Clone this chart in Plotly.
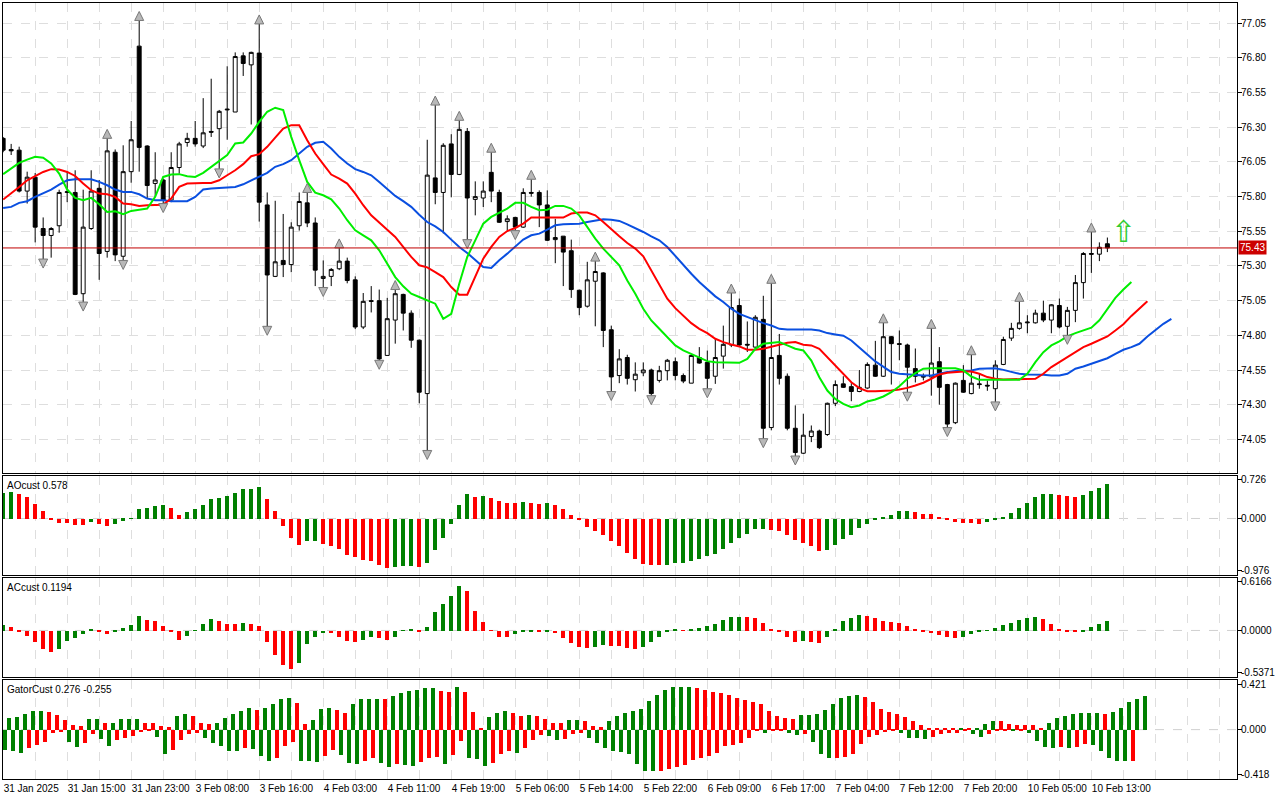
import plotly.graph_objects as go
from plotly.subplots import make_subplots

# H1 bars, index 0 = 31 Jan 2025 07:00
opens = [76.22, 76.14, 76.135, 75.84, 75.94, 75.57, 75.52, 75.59, 75.83, 75.83,
         75.10, 75.57, 75.86, 75.405, 76.12, 75.37, 75.98, 76.885, 76.165, 75.895,
         75.92, 75.775, 76.01, 76.19, 76.22, 76.165, 76.27, 76.29, 76.425, 76.41,
         76.815, 76.75, 76.835, 75.74, 75.225, 75.34, 75.31, 75.59, 75.755, 75.61,
         75.21, 75.225, 75.28, 75.335, 75.20, 74.86, 75.05, 75.05, 74.655, 74.91,
         75.095, 74.96, 74.765, 74.38, 75.935, 75.83, 76.18, 75.96, 76.27, 75.78,
         75.79, 75.975, 75.83, 75.62, 75.65, 75.58, 75.83, 75.83, 75.74, 75.49,
         75.515, 75.41, 75.125, 75.01, 75.19, 75.25, 74.84, 74.51, 74.64, 74.48,
         74.53, 74.55, 74.475, 74.545, 74.61, 74.51, 74.455, 74.64, 74.605, 74.505,
         74.65, 74.73, 75.015, 74.735, 74.715, 74.915, 74.135, 74.655, 74.505, 74.13,
         73.95, 74.07, 74.11, 74.085, 74.31, 74.45, 74.43, 74.395, 74.42, 74.585,
         74.505, 74.79, 74.74, 74.73, 74.56, 74.505, 74.50, 74.61, 74.445, 74.17,
         74.475, 74.38, 74.45, 74.44, 74.415, 74.59, 74.78, 74.85, 74.89, 74.89,
         74.96, 74.91, 75.015, 74.865, 74.98, 75.18, 75.39, 75.385, 75.46]
highs = [76.23, 76.18, 76.16, 75.98, 75.97, 75.65, 75.58, 75.85, 75.98, 75.99,
         75.85, 75.99, 75.92, 76.22, 76.14, 76.17, 76.345, 77.07, 76.17, 76.12,
         75.93, 76.12, 76.195, 76.26, 76.345, 76.51, 76.65, 76.425, 76.74, 76.84,
         76.84, 76.845, 77.045, 75.83, 75.77, 75.675, 75.615, 75.83, 75.83, 75.65,
         75.34, 75.285, 75.43, 75.36, 75.225, 75.105, 75.155, 75.13, 75.07, 75.13,
         75.10, 74.98, 74.77, 76.21, 76.46, 76.185, 76.25, 76.35, 76.295, 75.91,
         75.91, 76.12, 75.85, 75.665, 75.655, 75.86, 75.925, 75.845, 75.845, 75.64,
         75.515, 75.49, 75.13, 75.33, 75.335, 75.255, 74.87, 74.70, 74.66, 74.605,
         74.605, 74.56, 74.58, 74.63, 74.64, 74.525, 74.66, 74.715, 74.69, 74.775,
         74.87, 75.105, 75.065, 74.90, 74.945, 75.085, 75.175, 74.81, 74.525, 74.295,
         74.235, 74.15, 74.12, 74.315, 74.475, 74.505, 74.455, 74.55, 74.605, 74.76,
         74.89, 74.795, 74.835, 74.74, 74.705, 74.525, 74.85, 74.715, 74.45, 74.46,
         74.585, 74.66, 74.525, 74.475, 74.62, 74.79, 74.89, 75.045, 74.945, 74.985,
         75.05, 75.025, 75.065, 75.005, 75.235, 75.40, 75.545, 75.47, 75.505]
lows = [76.12, 76.10, 75.83, 75.75, 75.47, 75.35, 75.36, 75.54, 75.76, 75.09,
        75.04, 75.56, 75.20, 75.36, 75.335, 75.34, 75.90, 75.98, 75.79, 75.80,
        75.75, 75.76, 75.965, 76.16, 76.16, 76.15, 76.23, 76.00, 76.21, 76.41,
        76.67, 76.32, 75.62, 74.865, 75.22, 75.22, 75.255, 75.555, 75.58, 75.155,
        75.145, 75.155, 75.27, 75.175, 74.845, 74.845, 74.965, 74.62, 74.655, 74.74,
        74.835, 74.71, 74.31, 73.97, 75.745, 75.535, 75.795, 75.955, 75.49, 75.665,
        75.725, 75.76, 75.61, 75.555, 75.555, 75.575, 75.80, 75.58, 75.48, 75.32,
        75.155, 75.07, 74.945, 75.00, 74.865, 74.715, 74.395, 74.455, 74.445, 74.395,
        74.505, 74.365, 74.46, 74.475, 74.475, 74.455, 74.455, 74.595, 74.415, 74.45,
        74.56, 74.715, 74.725, 74.68, 74.71, 74.055, 74.115, 74.445, 74.115, 73.93,
        73.945, 74.03, 73.98, 74.075, 74.29, 74.42, 74.325, 74.39, 74.415, 74.50,
        74.50, 74.445, 74.62, 74.39, 74.46, 74.475, 74.365, 74.30, 74.135, 74.16,
        74.385, 74.375, 74.415, 74.40, 74.32, 74.585, 74.76, 74.84, 74.815, 74.885,
        74.895, 74.815, 74.85, 74.80, 74.895, 75.065, 75.25, 75.335, 75.40]
closes = [76.135, 76.13, 75.84, 75.94, 75.58, 75.52, 75.57, 75.83, 75.835, 75.095,
          75.58, 75.84, 75.39, 76.13, 75.38, 75.98, 76.21, 76.155, 75.88, 75.92,
          75.775, 76.01, 76.18, 76.22, 76.18, 76.26, 76.265, 76.415, 76.43, 76.81,
          76.76, 76.84, 75.76, 75.235, 75.33, 75.31, 75.58, 75.765, 75.61, 75.27,
          75.225, 75.275, 75.335, 75.195, 74.86, 75.045, 75.045, 74.63, 74.92, 75.10,
          74.96, 74.765, 74.39, 75.955, 75.83, 76.17, 75.96, 76.285, 75.79, 75.80,
          75.84, 75.84, 75.615, 75.64, 75.58, 75.83, 75.825, 75.74, 75.485, 75.505,
          75.40, 75.13, 75.00, 75.20, 75.26, 74.835, 74.50, 74.63, 74.49, 74.52,
          74.55, 74.38, 74.545, 74.62, 74.51, 74.47, 74.655, 74.60, 74.49, 74.64,
          74.735, 75.00, 74.73, 74.73, 74.93, 74.13, 74.64, 74.49, 74.13, 73.955,
          74.08, 74.11, 73.99, 74.31, 74.445, 74.425, 74.395, 74.425, 74.59, 74.505,
          74.79, 74.74, 74.735, 74.57, 74.505, 74.50, 74.60, 74.425, 74.16, 74.455,
          74.39, 74.455, 74.445, 74.435, 74.585, 74.77, 74.85, 74.89, 74.895, 74.96,
          74.91, 75.02, 74.86, 74.98, 75.18, 75.39, 75.385, 75.435, 75.43]

# Alligator lines as drawn (lips +3, teeth +5, jaw +8 bars ahead)
lips = [75.962, 76.003, 76.043, 76.067, 76.087, 76.08, 76.039, 75.966, 75.851, 75.791,
        75.774, 75.791, 75.745, 75.69, 75.694, 75.673, 75.697, 75.706, 75.714, 75.798,
        75.942, 75.959, 75.962, 75.947, 75.942, 75.971, 76.015, 76.055, 76.099, 76.183,
        76.19, 76.255, 76.339, 76.412, 76.441, 76.424, 76.231, 76.063, 75.906, 75.829,
        75.81, 75.781, 75.714, 75.63, 75.557, 75.521, 75.485, 75.413, 75.317, 75.22,
        75.153, 75.1, 75.076, 75.05, 75.028, 74.919, 74.955, 75.172, 75.365, 75.485,
        75.605, 75.654, 75.682, 75.714, 75.755, 75.755, 75.726, 75.702, 75.706, 75.733,
        75.733, 75.714, 75.665, 75.581, 75.497, 75.425, 75.365, 75.305, 75.196, 75.1,
        74.992, 74.907, 74.847, 74.787, 74.727, 74.691, 74.667, 74.638, 74.614, 74.606,
        74.606, 74.602, 74.602, 74.63, 74.703, 74.739, 74.744, 74.751, 74.727, 74.703,
        74.691, 74.618, 74.498, 74.402, 74.342, 74.306, 74.282, 74.294, 74.323, 74.337,
        74.359, 74.39, 74.433, 74.487, 74.527, 74.559, 74.563, 74.563, 74.563, 74.563,
        74.547, 74.503, 74.479, 74.479, 74.479, 74.479, 74.479, 74.479, 74.523, 74.607,
        74.679, 74.727, 74.756, 74.792, 74.816, 74.835, 74.855, 74.908, 74.99, 75.07,
        75.13, 75.184]
teeth = [75.779, 75.822, 75.87, 75.918, 75.949, 75.978, 75.998, 75.995, 75.978, 75.949,
         75.894, 75.846, 75.822, 75.817, 75.798, 75.75, 75.745, 75.733, 75.738, 75.738,
         75.742, 75.786, 75.87, 75.894, 75.899, 75.899, 75.899, 75.918, 75.954, 75.99,
         76.034, 76.091, 76.106, 76.159, 76.226, 76.291, 76.315, 76.315, 76.207, 76.111,
         76.034, 75.959, 75.93, 75.894, 75.822, 75.738, 75.665, 75.617, 75.562, 75.509,
         75.437, 75.365, 75.305, 75.29, 75.256, 75.22, 75.148, 75.093, 75.093, 75.22,
         75.353, 75.437, 75.509, 75.552, 75.574, 75.605, 75.649, 75.649, 75.649, 75.649,
         75.649, 75.678, 75.685, 75.685, 75.665, 75.617, 75.562, 75.514, 75.466, 75.425,
         75.37, 75.268, 75.16, 75.064, 74.996, 74.943, 74.888, 74.847, 74.816, 74.775,
         74.751, 74.734, 74.72, 74.696, 74.696, 74.703, 74.715, 74.732, 74.746, 74.751,
         74.732, 74.727, 74.703, 74.642, 74.58, 74.523, 74.462, 74.419, 74.397, 74.397,
         74.397, 74.402, 74.41, 74.421, 74.438, 74.458, 74.487, 74.518, 74.53, 74.535,
         74.539, 74.539, 74.523, 74.499, 74.487, 74.482, 74.482, 74.482, 74.482, 74.487,
         74.523, 74.571, 74.607, 74.643, 74.679, 74.715, 74.739, 74.763, 74.792, 74.835,
         74.88, 74.94, 74.99, 75.045]
jaw = [75.718, 75.726, 75.755, 75.767, 75.798, 75.822, 75.851, 75.887, 75.918, 75.925,
       75.925, 75.925, 75.906, 75.882, 75.851, 75.834, 75.834, 75.817, 75.786, 75.774,
       75.774, 75.767, 75.767, 75.767, 75.798, 75.851, 75.858, 75.863, 75.865, 75.87,
       75.889, 75.918, 75.947, 75.971, 76.015, 76.034, 76.063, 76.111, 76.159, 76.188,
       76.195, 76.147, 76.087, 76.039, 75.998, 75.978, 75.954, 75.906, 75.858, 75.805,
       75.767, 75.726, 75.67, 75.617, 75.586, 75.545, 75.49, 75.437, 75.394, 75.341,
       75.293, 75.285, 75.341, 75.389, 75.442, 75.49, 75.521, 75.533, 75.562, 75.593,
       75.6, 75.6, 75.605, 75.617, 75.629, 75.637, 75.634, 75.625, 75.6, 75.574,
       75.545, 75.514, 75.485, 75.437, 75.37, 75.305, 75.244, 75.184, 75.129, 75.081,
       75.04, 74.992, 74.955, 74.931, 74.907, 74.888, 74.871, 74.847, 74.842, 74.842,
       74.847, 74.842, 74.835, 74.816, 74.806, 74.797, 74.763, 74.715, 74.662, 74.612,
       74.571, 74.535, 74.523, 74.518, 74.515, 74.51, 74.51, 74.523, 74.535, 74.542,
       74.544, 74.547, 74.559, 74.563, 74.563, 74.551, 74.535, 74.523, 74.518, 74.518,
       74.515, 74.51, 74.51, 74.523, 74.559, 74.575, 74.595, 74.612, 74.635, 74.667,
       74.696, 74.715, 74.739, 74.792, 74.835, 74.883, 74.919]

fractal_up = [13, 17, 32, 38, 42, 49, 54, 57, 61, 66, 74, 91, 96, 110, 116, 121, 127, 136]
fractal_down = [5, 10, 15, 20, 27, 33, 40, 47, 53, 58, 64, 76, 81, 88, 95, 99, 113, 118, 124, 133]
signal_bar, signal_price = 140, 75.55
last_price = 75.43

ao = [0.478, 0.503, 0.459, 0.408, 0.287, 0.14, -0.01, -0.07, -0.075, -0.108,
      -0.112, -0.05, -0.09, -0.134, -0.09, -0.032, 0.013, 0.178, 0.197, 0.248,
      0.252, 0.197, 0.076, 0.121, 0.178, 0.268, 0.363, 0.389, 0.427, 0.478,
      0.554, 0.567, 0.592, 0.363, 0.14, -0.127, -0.357, -0.497, -0.414, -0.41,
      -0.46, -0.5, -0.57, -0.67, -0.72, -0.76, -0.78, -0.86, -0.91, -0.905,
      -0.88, -0.878, -0.9, -0.82, -0.573, -0.357, -0.096, 0.268, 0.459, 0.401,
      0.42, 0.40, 0.344, 0.306, 0.305, 0.307, 0.304, 0.287, 0.289, 0.268,
      0.191, 0.076, -0.02, -0.146, -0.223, -0.306, -0.414, -0.51, -0.643, -0.758,
      -0.834, -0.854, -0.856, -0.853, -0.82, -0.815, -0.796, -0.758, -0.7, -0.662,
      -0.567, -0.452, -0.357, -0.28, -0.185, -0.183, -0.21, -0.223, -0.306, -0.401,
      -0.452, -0.51, -0.592, -0.59, -0.497, -0.376, -0.306, -0.166, -0.089, -0.005,
      0.032, 0.076, 0.14, 0.153, 0.134, 0.096, 0.095, 0.038, -0.003, -0.05,
      -0.07, -0.072, -0.09, -0.05, -0.003, 0.032, 0.115, 0.21, 0.306, 0.401,
      0.459, 0.46, 0.44, 0.42, 0.418, 0.44, 0.516, 0.573, 0.65]
ac = [0.068, 0.051, -0.005, -0.064, -0.137, -0.231, -0.265, -0.231, -0.128, -0.09,
      -0.047, 0.026, -0.005, -0.038, -0.01, 0.034, 0.077, 0.192, 0.141, 0.12,
      0.064, -0.012, -0.111, -0.064, 0.004, 0.09, 0.154, 0.12, 0.09, 0.089,
      0.103, 0.09, 0.064, -0.137, -0.308, -0.436, -0.487, -0.406, -0.162, -0.077,
      -0.026, -0.034, -0.085, -0.124, -0.137, -0.111, -0.085, -0.094, -0.111, -0.073,
      0.008, 0.013, -0.004, 0.051, 0.235, 0.333, 0.436, 0.564, 0.5, 0.256,
      0.115, 0.008, -0.077, -0.078, -0.047, -0.021, -0.008, -0.017, -0.009, -0.034,
      -0.09, -0.15, -0.205, -0.218, -0.205, -0.18, -0.192, -0.193, -0.218, -0.231,
      -0.205, -0.137, -0.077, -0.021, 0.013, 0.008, 0.021, 0.038, 0.064, 0.09,
      0.132, 0.179, 0.18, 0.178, 0.167, 0.103, 0.026, -0.008, -0.077, -0.137,
      -0.135, -0.137, -0.15, -0.077, 0.026, 0.128, 0.167, 0.205, 0.192, 0.167,
      0.128, 0.115, 0.103, 0.064, 0.026, -0.017, -0.034, -0.06, -0.085, -0.098,
      -0.077, -0.047, -0.017, 0.008, 0.038, 0.077, 0.103, 0.141, 0.167, 0.179,
      0.154, 0.09, 0.026, -0.004, -0.017, -0.004, 0.051, 0.09, 0.128]
gator_up = [0.066, 0.104, 0.116, 0.148, 0.170, 0.171, 0.164, 0.135, 0.088, 0.040,
            0.035, 0.097, 0.098, 0.060, 0.062, 0.097, 0.098, 0.099, 0.060, 0.059,
            0.031, 0.022, 0.126, 0.145, 0.126, 0.063, 0.050, 0.063, 0.107, 0.145,
            0.170, 0.198, 0.179, 0.198, 0.233, 0.286, 0.292, 0.248, 0.057, 0.088,
            0.189, 0.198, 0.179, 0.154, 0.233, 0.286, 0.287, 0.288, 0.284, 0.308,
            0.343, 0.362, 0.371, 0.381, 0.382, 0.362, 0.352, 0.390, 0.352, 0.164,
            0.008, 0.116, 0.154, 0.173, 0.154, 0.126, 0.135, 0.126, 0.097, 0.060,
            0.059, 0.088, 0.089, 0.079, 0.031, 0.022, 0.079, 0.126, 0.154, 0.173,
            0.192, 0.267, 0.324, 0.371, 0.390, 0.391, 0.392, 0.381, 0.371, 0.352,
            0.343, 0.324, 0.296, 0.277, 0.258, 0.233, 0.173, 0.126, 0.107, 0.097,
            0.135, 0.136, 0.145, 0.182, 0.239, 0.296, 0.314, 0.324, 0.305, 0.255,
            0.192, 0.164, 0.145, 0.116, 0.079, 0.041, 0.019, 0.012, 0.010, 0.008,
            0.019, 0.009, 0.019, 0.050, 0.079, 0.078, 0.050, 0.041, 0.040, 0.039,
            0.020, 0.060, 0.107, 0.126, 0.145, 0.154, 0.155, 0.156, 0.145, 0.164,
            0.201, 0.258, 0.286, 0.314]
gator_down = [-0.186, -0.201, -0.211, -0.167, -0.140, -0.110, -0.031, -0.022, -0.116, -0.164,
              -0.126, -0.038, -0.082, -0.154, -0.097, -0.075, -0.057, -0.022, -0.013, -0.069,
              -0.220, -0.186, -0.091, -0.035, -0.031, -0.075, -0.126, -0.154, -0.195, -0.200,
              -0.173, -0.179, -0.242, -0.286, -0.261, -0.148, -0.116, -0.286, -0.287, -0.296,
              -0.242, -0.186, -0.230, -0.305, -0.321, -0.286, -0.258, -0.305, -0.343, -0.318,
              -0.324, -0.333, -0.296, -0.258, -0.248, -0.314, -0.230, -0.107, -0.258, -0.267,
              -0.333, -0.305, -0.220, -0.201, -0.211, -0.173, -0.091, -0.050, -0.060, -0.097,
              -0.088, -0.041, -0.030, -0.079, -0.126, -0.173, -0.192, -0.205, -0.220, -0.314,
              -0.380, -0.381, -0.380, -0.362, -0.343, -0.324, -0.277, -0.258, -0.239, -0.211,
              -0.154, -0.145, -0.126, -0.079, -0.005, -0.031, -0.013, -0.012, -0.031, -0.050,
              -0.041, -0.116, -0.220, -0.258, -0.257, -0.256, -0.220, -0.135, -0.069, -0.050,
              -0.022, -0.013, -0.031, -0.079, -0.080, -0.088, -0.069, -0.041, -0.031, -0.030,
              -0.005, -0.041, -0.069, -0.041, -0.013, -0.003, -0.013, -0.012, -0.031, -0.107,
              -0.164, -0.165, -0.164, -0.173, -0.164, -0.135, -0.145, -0.200, -0.258, -0.286,
              -0.290, -0.286]

time_labels = ["31 Jan 2025", "31 Jan 15:00", "31 Jan 23:00", "3 Feb 08:00", "3 Feb 16:00",
               "4 Feb 03:00", "4 Feb 11:00", "4 Feb 19:00", "5 Feb 06:00", "5 Feb 14:00",
               "5 Feb 22:00", "6 Feb 09:00", "6 Feb 17:00", "7 Feb 04:00", "7 Feb 12:00",
               "7 Feb 20:00", "10 Feb 05:00", "10 Feb 13:00"]
price_ticks = [74.05, 74.30, 74.55, 74.80, 75.05, 75.30, 75.55, 75.80, 76.05, 76.30, 76.55, 76.80, 77.05]

GREEN = "#008000"
RED = "#ff0000"
FONT = "Liberation Sans"


def bar_colors(vals, use_abs=False):
    # green when the bar grows compared with the previous one, red otherwise
    cols = []
    prev_col = GREEN
    for k, v in enumerate(vals):
        if k == 0:
            cols.append(GREEN)
            continue
        a, b = (abs(v), abs(vals[k - 1])) if use_abs else (v, vals[k - 1])
        if a > b:
            prev_col = GREEN
        elif a < b:
            prev_col = RED
        cols.append(prev_col)
    return cols


fig = make_subplots(rows=4, cols=1, shared_xaxes=True, vertical_spacing=0.01)

n = len(opens)
fig.add_trace(go.Candlestick(
    x=list(range(n)), open=opens, high=highs, low=lows, close=closes,
    increasing=dict(line=dict(color="black", width=1), fillcolor="white"),
    decreasing=dict(line=dict(color="black", width=1), fillcolor="black"),
    whiskerwidth=0, showlegend=False, hoverinfo="skip"), row=1, col=1)

for vals, col in [(jaw, "#0a4fe0"), (teeth, "#ff0000"), (lips, "#00ee00")]:
    fig.add_trace(go.Scatter(x=list(range(len(vals))), y=vals, mode="lines",
                             line=dict(color=col, width=2), showlegend=False,
                             hoverinfo="skip"), row=1, col=1)

off = 0.065  # about 9 px above the high / below the low
fig.add_trace(go.Scatter(
    x=fractal_up, y=[highs[i] + off for i in fractal_up], mode="markers",
    marker=dict(symbol="arrow-up", size=9, color="#b8b8b8", line=dict(color="#787878", width=1)),
    showlegend=False, hoverinfo="skip"), row=1, col=1)
fig.add_trace(go.Scatter(
    x=fractal_down, y=[lows[i] - off for i in fractal_down], mode="markers",
    marker=dict(symbol="arrow-down", size=9, color="#b8b8b8", line=dict(color="#787878", width=1)),
    showlegend=False, hoverinfo="skip"), row=1, col=1)

fig.add_trace(go.Bar(x=list(range(len(ao))), y=ao, marker_color=bar_colors(ao),
                     marker_line_width=0, width=0.5, showlegend=False, hoverinfo="skip"), row=2, col=1)
fig.add_trace(go.Bar(x=list(range(len(ac))), y=ac, marker_color=bar_colors(ac),
                     marker_line_width=0, width=0.5, showlegend=False, hoverinfo="skip"), row=3, col=1)
fig.add_trace(go.Bar(x=list(range(len(gator_up))), y=gator_up, marker_color=bar_colors(gator_up),
                     marker_line_width=0, width=0.5, showlegend=False, hoverinfo="skip"), row=4, col=1)
fig.add_trace(go.Bar(x=list(range(len(gator_down))), y=gator_down,
                     marker_color=bar_colors(gator_down, use_abs=True),
                     marker_line_width=0, width=0.5, showlegend=False, hoverinfo="skip"), row=4, col=1)

# x axes: grid every 4 bars, a label every 8 bars
grid_vals = list(range(0, 156, 4))
grid_text = [time_labels[v // 8] if v % 8 == 0 and v // 8 < len(time_labels) else "" for v in grid_vals]
axis_common = dict(showline=True, mirror=True, linecolor="black", linewidth=1,
                   showgrid=True, gridcolor="#dedede", griddash="dash", gridwidth=1,
                   zeroline=False, automargin=False)
fig.update_xaxes(range=[-0.02, 154.2], tickmode="array", tickvals=grid_vals, ticktext=grid_text,
                 showticklabels=False, ticks="", tickangle=0, rangeslider_visible=False,
                 **axis_common)
fig.update_xaxes(showticklabels=True, ticklabelposition="outside right",
                 tickfont=dict(family=FONT, size=10, color="black"), row=4, col=1)

fig.update_yaxes(side="right", ticks="outside", ticklen=4, tickcolor="black",
                 ticklabelstandoff=-3,
                 tickfont=dict(family=FONT, size=10, color="black"), **axis_common)
fig.update_yaxes(range=[73.81, 77.196], tickmode="array", tickvals=price_ticks,
                 ticktext=["%.2f" % v for v in price_ticks], domain=[0.3948, 1.0], row=1, col=1)
fig.update_yaxes(range=[-1.052, 0.802], tickmode="array", tickvals=[-0.976, 0, 0.726],
                 ticktext=["-0.976", "0.000", "0.726"], showgrid=False,
                 domain=[0.2632, 0.3910], row=2, col=1)
fig.update_yaxes(range=[-0.588, 0.668], tickmode="array", tickvals=[-0.5371, 0, 0.6166],
                 ticktext=["-0.5371", "0.0000", "0.6166"], showgrid=False,
                 domain=[0.1316, 0.2594], row=3, col=1)
fig.update_yaxes(range=[-0.456, 0.459], tickmode="array", tickvals=[-0.418, 0, 0.421],
                 ticktext=["-0.418", "0.000", "0.421"], showgrid=False,
                 domain=[0.0, 0.1277], row=4, col=1)

# dashed zero lines of the oscillators
for yref, xref in [("y2", "x2 domain"), ("y3", "x3 domain"), ("y4", "x4 domain")]:
    fig.add_shape(type="line", xref=xref, yref=yref, x0=0, x1=1, y0=0, y1=0,
                  line=dict(color="#d0d0d0", width=1, dash="dash"), layer="below")

# last price line and its label
fig.add_shape(type="line", xref="x domain", yref="y", x0=0, x1=1, y0=last_price, y1=last_price,
              line=dict(color="#c00000", width=1))
fig.add_annotation(xref="paper", yref="y", x=1, y=last_price, xanchor="left", xshift=1,
                   text="%.2f" % last_price, showarrow=False, bgcolor="#cc0000",
                   font=dict(family=FONT, size=10, color="white"), borderpad=1)

# buy signal arrow
fig.add_annotation(x=signal_bar, y=signal_price, xref="x", yref="y", text="⇧", showarrow=False,
                   font=dict(family="DejaVu Sans", size=30, color="#33cc33"))

for txt, ytop in [("AOcust 0.578", 0.3910), ("ACcust 0.1194", 0.2594), ("GatorCust 0.276 -0.255", 0.1277)]:
    fig.add_annotation(xref="paper", yref="paper", x=0.002, y=ytop, xanchor="left", yanchor="top",
                       yshift=-2, text=txt, showarrow=False,
                       font=dict(family=FONT, size=10, color="black"))

fig.update_layout(width=1280, height=800, margin=dict(l=3, r=43, t=3, b=21),
                  paper_bgcolor="white", plot_bgcolor="white", bargap=0,
                  font=dict(family=FONT, size=10, color="black"), showlegend=False)

# the page's default body margin would push the chart 8 px off
fig.write_html("out.html", config={"displayModeBar": False},
               post_script="document.body.style.margin='0px';")
